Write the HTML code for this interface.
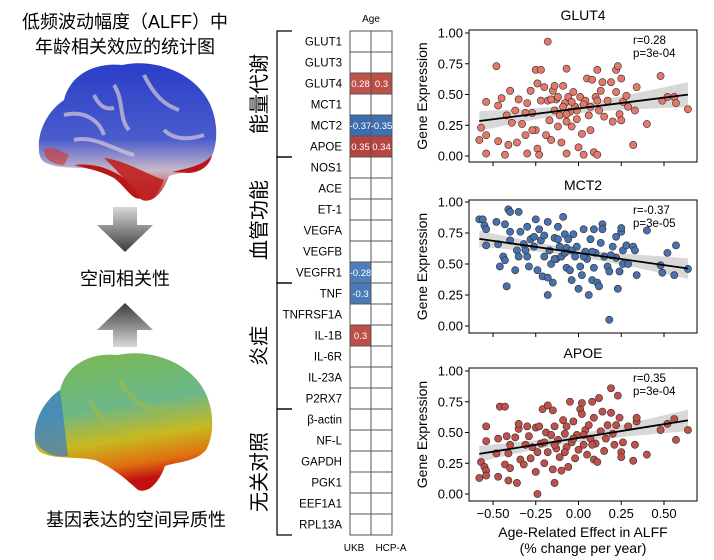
<!DOCTYPE html>
<html><head><meta charset="utf-8">
<style>
html,body{margin:0;padding:0;background:#fff;}
svg{display:block;font-family:"Liberation Sans","Noto Sans CJK SC",sans-serif;}
</style></head>
<body>
<svg id="fig" width="714" height="560" viewBox="0 0 714 560" xmlns="http://www.w3.org/2000/svg">
<defs>
<linearGradient id="arrowDown" x1="0" y1="0" x2="0" y2="1"><stop offset="0" stop-color="#d8d8d8"/><stop offset="1" stop-color="#3a3a3a"/></linearGradient>
<linearGradient id="arrowUp" x1="0" y1="1" x2="0" y2="0"><stop offset="0" stop-color="#d8d8d8"/><stop offset="1" stop-color="#3a3a3a"/></linearGradient>
<linearGradient id="b1" x1="0" y1="0" x2="0" y2="1"><stop offset="0" stop-color="#2a3ec8"/><stop offset="0.55" stop-color="#4a5ccc"/><stop offset="0.78" stop-color="#c8b8c8"/><stop offset="1" stop-color="#c01818"/></linearGradient>
<linearGradient id="b2" x1="0" y1="0" x2="0.2" y2="1"><stop offset="0" stop-color="#7cb84a"/><stop offset="0.45" stop-color="#6ab88a"/><stop offset="0.7" stop-color="#c8b820"/><stop offset="0.88" stop-color="#e07010"/><stop offset="1" stop-color="#c01010"/></linearGradient>
<path id="brainShape" d="M35,440 C33,420 45,400 60,390 C66,365 90,352 118,355 C150,348 190,362 205,392 C215,412 214,436 206,450 C196,462 176,462 165,466 C160,480 150,494 138,490 C125,478 110,466 95,460 C75,456 55,460 40,452 C36,448 35,445 35,440 Z"/>
</defs>

<text x="125" y="28" text-anchor="middle" font-size="18">低频波动幅度（ALFF）中</text>
<text x="125" y="53" text-anchor="middle" font-size="18">年龄相关效应的统计图</text>
<g transform="translate(4,-290)">
<use href="#brainShape" fill="url(#b1)"/>
<path d="M60,405 C80,400 95,410 100,425 M110,375 C120,390 115,410 125,420 M140,365 C150,385 160,395 175,400 M70,430 C90,425 110,440 130,445 M160,420 C170,430 185,430 200,425 M90,385 C95,395 100,400 110,398" stroke="#d8c8d8" stroke-width="4" fill="none" opacity="0.7"/>
<path d="M70,455 C95,452 120,462 140,488 C128,492 125,480 110,468 C95,460 80,458 70,455 Z" fill="#b81818"/>
<path d="M100,448 C120,450 145,465 160,470 C155,482 148,492 138,490 C128,478 115,462 100,448 Z" fill="#c02020" opacity="0.9"/>
<path d="M168,462 C185,458 200,455 208,445 C206,455 198,462 185,463 Z" fill="#b81818"/>
<path d="M40,440 C45,435 55,440 65,445 L60,455 C50,455 40,450 40,440 Z" fill="#c84040" opacity="0.7"/>
</g>
<path d="M113,207 H137 V225 H153 L125,252 L97,225 H113 Z" fill="url(#arrowDown)"/>
<text x="125" y="285" text-anchor="middle" font-size="18">空间相关性</text>
<path d="M125,303 L153,330 H137 V347 H113 V330 H97 Z" fill="url(#arrowUp)"/>
<g>
<use href="#brainShape" fill="url(#b2)"/>
<path d="M35,440 C33,420 45,400 60,390 L68,456 C55,458 40,452 35,440 Z" fill="#3a7ac8" opacity="0.7"/>
<path d="M90,400 C100,420 110,430 130,440 M120,380 C130,400 145,410 165,412" stroke="#a8b840" stroke-width="4" fill="none" opacity="0.6"/>
</g>
<text x="136" y="526" text-anchor="middle" font-size="18">基因表达的空间异质性</text>

<g id="heat"></g>
<g id="plots"></g>
</svg>

<script>
const NS = "http://www.w3.org/2000/svg";
const genes = ["GLUT1","GLUT3","GLUT4","MCT1","MCT2","APOE","NOS1","ACE","ET-1","VEGFA","VEGFB","VEGFR1","TNF","TNFRSF1A","IL-1B","IL-6R","IL-23A","P2RX7","β-actin","NF-L","GAPDH","PGK1","EEF1A1","RPL13A"];
const cohorts = ["UKB","HCP-A"];
const ukbValues = [null,null,0.28,null,-0.37,0.35,null,null,null,null,null,-0.28,-0.3,null,0.3,null,null,null,null,null,null,null,null,null];
const hcpValues = [null,null,0.3,null,-0.35,0.34,null,null,null,null,null,null,null,null,null,null,null,null,null,null,null,null,null,null];
const groupNames = ["能量代谢","血管功能","炎症","无关对照"];
const groupSizes = [6,6,6,6];

const glut4X = [-0.58,-0.57,-0.54,-0.54,-0.54,-0.48,-0.47,-0.47,-0.45,-0.43,-0.42,-0.40,-0.41,-0.39,-0.37,-0.36,-0.35,-0.33,-0.31,-0.30,-0.30,-0.28,-0.27,-0.25,-0.25,-0.24,-0.23,-0.22,-0.22,-0.24,-0.20,-0.19,-0.18,-0.18,-0.17,-0.16,-0.15,-0.14,-0.13,-0.12,-0.11,-0.10,-0.09,-0.08,-0.07,-0.07,-0.07,-0.06,-0.05,-0.04,-0.03,-0.02,-0.01,0.00,0.01,0.02,0.03,0.04,0.05,0.06,0.07,0.08,0.09,0.10,0.11,0.11,0.12,0.13,0.14,0.15,0.17,0.19,0.20,0.22,0.22,0.23,0.24,0.25,0.25,0.26,0.28,0.29,0.32,0.33,0.34,0.40,0.48,0.49,0.52,0.56,0.57,0.64,-0.12,-0.09,-0.07,-0.04,-0.01,0.03,0.07,0.11,-0.31,-0.27,-0.16,-0.14];
const glut4Y = [0.13,0.23,0.44,0.02,0.17,0.73,0.41,0.12,0.47,0.01,0.33,0.53,0.09,0.27,0.37,0.11,0.46,0.26,0.17,0.43,0.02,0.53,0.35,0.70,0.21,0.06,0.01,0.70,0.45,0.59,0.56,0.17,0.45,0.93,0.29,0.13,0.53,0.37,0.46,0.24,0.33,0.11,0.57,0.43,0.28,0.71,0.02,0.48,0.36,0.24,0.52,0.40,0.30,0.07,0.48,0.18,0.01,0.45,0.63,0.33,0.21,0.62,0.03,0.48,0.01,0.70,0.37,0.53,0.60,0.32,0.45,0.60,0.28,0.70,0.52,0.73,0.34,0.29,0.63,0.44,0.49,0.40,0.09,0.37,0.56,0.26,0.65,0.45,0.48,0.48,0.43,0.38,0.48,0.40,0.34,0.44,0.37,0.42,0.40,0.45,0.35,0.21,0.46,0.57];
const mct2X = [-0.58,-0.56,-0.55,-0.54,-0.54,-0.48,-0.47,-0.46,-0.44,-0.43,-0.43,-0.42,-0.41,-0.40,-0.40,-0.40,-0.37,-0.36,-0.35,-0.35,-0.34,-0.32,-0.30,-0.30,-0.29,-0.28,-0.26,-0.25,-0.24,-0.23,-0.22,-0.21,-0.20,-0.18,-0.18,-0.18,-0.17,-0.16,-0.15,-0.14,-0.13,-0.12,-0.11,-0.10,-0.09,-0.08,-0.07,-0.07,-0.06,-0.05,-0.04,-0.03,-0.02,-0.01,0.00,0.01,0.02,0.03,0.04,0.05,0.06,0.07,0.08,0.09,0.09,0.10,0.11,0.12,0.13,0.14,0.14,0.15,0.17,0.18,0.18,0.20,0.22,0.22,0.23,0.24,0.25,0.25,0.26,0.26,0.28,0.29,0.32,0.33,0.34,0.40,0.48,0.49,0.52,0.56,0.57,0.64,-0.20,-0.14,-0.08,-0.04,0.03,0.08,-0.26,-0.31,-0.12,0.19];
const mct2Y = [0.86,0.86,0.81,0.78,0.65,0.84,0.66,0.48,0.56,0.53,0.82,0.32,0.94,0.92,0.69,0.76,0.45,0.61,0.92,0.56,0.76,0.66,0.80,0.56,0.48,0.70,0.64,0.86,0.45,0.78,0.69,0.40,0.73,0.84,0.25,0.39,0.61,0.50,0.35,0.71,0.54,0.80,0.64,0.56,0.88,0.74,0.63,0.47,0.70,0.45,0.37,0.74,0.56,0.64,0.30,0.48,0.41,0.78,0.60,0.54,0.25,0.70,0.37,0.78,0.47,0.59,0.35,0.32,0.67,0.82,0.78,0.56,0.48,0.44,0.05,0.64,0.72,0.55,0.30,0.44,0.76,0.79,0.50,0.61,0.65,0.50,0.64,0.61,0.41,0.77,0.49,0.43,0.59,0.41,0.65,0.46,0.56,0.54,0.59,0.61,0.56,0.60,0.72,0.61,0.70,0.57];
const apoeX = [-0.58,-0.57,-0.55,-0.54,-0.54,-0.54,-0.54,-0.48,-0.47,-0.47,-0.46,-0.43,-0.43,-0.42,-0.41,-0.41,-0.40,-0.40,-0.37,-0.36,-0.35,-0.35,-0.34,-0.32,-0.31,-0.30,-0.29,-0.28,-0.27,-0.25,-0.25,-0.24,-0.23,-0.22,-0.21,-0.20,-0.19,-0.18,-0.18,-0.16,-0.15,-0.15,-0.14,-0.14,-0.13,-0.12,-0.11,-0.10,-0.09,-0.08,-0.07,-0.07,-0.06,-0.05,-0.04,-0.03,-0.02,-0.01,0.00,0.01,0.02,0.02,0.03,0.04,0.05,0.06,0.07,0.08,0.09,0.09,0.10,0.11,0.12,0.13,0.14,0.15,0.16,0.17,0.19,0.19,0.20,0.21,0.22,0.23,0.24,0.25,0.25,0.26,0.29,0.32,0.33,0.34,0.34,0.40,0.48,0.52,0.56,0.57,0.64,-0.14,-0.08,-0.03,0.03,0.08,-0.20,-0.24];
const apoeY = [0.13,0.26,0.22,0.43,0.55,0.19,0.15,0.33,0.14,0.45,0.71,0.71,0.24,0.47,0.11,0.33,0.40,0.21,0.46,0.09,0.53,0.57,0.28,0.24,0.40,0.55,0.47,0.29,0.38,0.54,0.18,0.00,0.55,0.41,0.69,0.25,0.50,0.72,0.34,0.48,0.68,0.20,0.55,0.09,0.37,0.44,0.30,0.19,0.60,0.49,0.38,0.55,0.22,0.75,0.42,0.59,0.29,0.48,0.36,0.69,0.74,0.65,0.40,0.52,0.32,0.56,0.45,0.75,0.28,0.62,0.41,0.26,0.78,0.51,0.67,0.35,0.45,0.56,0.86,0.66,0.49,0.40,0.56,0.80,0.62,0.34,0.30,0.42,0.55,0.27,0.40,0.59,0.62,0.32,0.52,0.57,0.61,0.44,0.52,0.40,0.34,0.45,0.48,0.40,0.42,0.34];
const yTickValues = [0,0.25,0.5,0.75,1.0];
const yTickLabels = ["0.00","0.25","0.50","0.75","1.00"];
const xTickValues = [-0.5,-0.25,0,0.25,0.5];
const xTickLabels = ["\u22120.50","\u22120.25","0.00","0.25","0.50"];
const plotTitles = ["GLUT4","MCT2","APOE"];
const plotStats = [["r=0.28","p=3e-04"],["r=-0.37","p=3e-05"],["r=0.35","p=3e-04"]];

function mk(tag, attrs, parent){const e=document.createElementNS(NS,tag);for(const k in attrs)e.setAttribute(k,attrs[k]);parent.appendChild(e);return e;}

const heat = document.getElementById('heat');
const hx0 = 350, cw = 21, hy0 = 31, rh = 21;
function cellColor(v){
  if(v===null) return '#ffffff';
  const a=Math.min(1,Math.abs(v)/0.37);
  if(v>0){
    const r=Math.round(235-(235-178)*a), g=Math.round(150-(150-62)*a), b=Math.round(130-(130-60)*a);
    return `rgb(${r},${g},${b})`;
  } else {
    const r=Math.round(140-(140-58)*a), g=Math.round(180-(180-108)*a), b=Math.round(220-(220-176)*a);
    return `rgb(${r},${g},${b})`;
  }
}
const t0 = mk('text',{x:hx0+cw,y:22,'text-anchor':'middle','font-size':10},heat);
t0.textContent='Age';


const seriesVals=[ukbValues,hcpValues];
genes.forEach((g,i)=>{
  const y=hy0+i*rh;
  const lab=mk('text',{x:342,y:y+rh/2+4,'text-anchor':'end','font-size':11.5},heat);
  lab.textContent=g;
  
  
  seriesVals.forEach((arr,j)=>{
    const x=hx0+j*cw;
    const r=mk('rect',{x:x,y:y,width:cw,height:rh,fill:cellColor(arr[i]),stroke:'#555','stroke-width':1},heat);
    
    
    if(arr[i]!==null){
      const tv=mk('text',{x:x+cw/2,y:y+rh/2+3.5,'text-anchor':'middle','font-size':9.5,fill:'#fff'},heat);
      tv.textContent=String(arr[i]);
      
      
    }
  });
});
const cohortX=[354,391];
cohorts.forEach((c,j)=>{
  const t=mk('text',{x:cohortX[j],y:551,'text-anchor':'middle','font-size':10},heat);
  t.textContent=c;
  
  
});
let start=0;
groupNames.forEach((gname,k)=>{
  const y1=hy0+start*rh, y2=hy0+(start+groupSizes[k])*rh;
  const br=mk('path',{d:`M292,${y1} H277 V${y2} H292`,fill:'none',stroke:'#000','stroke-width':1.2},heat);
  
  
  const cy=(y1+y2)/2;
  const gt=mk('text',{x:0,y:0,'text-anchor':'middle','font-size':20,transform:`translate(266,${cy}) rotate(-90)`},heat);
  gt.textContent=gname;
  
  
  start+=groupSizes[k];
});

const plots=document.getElementById('plots');
const axL=469, axR=697;
function xScale(v){return 578.5+v*171;}
const panels=[
  {xs:glut4X,ys:glut4Y,top:30,bot:162,y1:33,y0:156,fill:'#e2796a'},
  {xs:mct2X,ys:mct2Y,top:200,bot:333,y1:202,y0:326,fill:'#4473b0'},
  {xs:apoeX,ys:apoeY,top:368,bot:501,y1:371,y0:494,fill:'#bd514c'}
];
panels.forEach((p,pi)=>{
  const g=mk('g',{},plots);
  
  
  const yS=v=>p.y0+(p.y1-p.y0)*v;
  const n=p.xs.length; let mx=0,my=0; for(let i=0;i<n;i++){mx+=p.xs[i];my+=p.ys[i];} mx/=n;my/=n;
  let sxy=0,sxx=0,sse=0; for(let i=0;i<n;i++){sxy+=(p.xs[i]-mx)*(p.ys[i]-my);sxx+=(p.xs[i]-mx)**2;}
  const b=sxy/sxx,a=my-b*mx;
  for(let i=0;i<n;i++){sse+=(p.ys[i]-a-b*p.xs[i])**2;}
  const s=Math.sqrt(sse/(n-2));
  const xa=-0.58,xb=0.64;
  let up=[],dn=[];
  for(let k=0;k<=20;k++){const xv=xa+(xb-xa)*k/20;const se=1.97*s*Math.sqrt(1/n+(xv-mx)**2/sxx);const yv=a+b*xv;up.push(`${xScale(xv)},${yS(yv+se)}`);dn.unshift(`${xScale(xv)},${yS(yv-se)}`);}
  const band=mk('polygon',{points:up.concat(dn).join(' '),fill:'#c8c8c8',opacity:0.7},g);
  
  
  for(let i=0;i<n;i++){
    const c=mk('circle',{cx:xScale(p.xs[i]),cy:yS(p.ys[i]),r:3.6,fill:p.fill,stroke:'#3a2a2a','stroke-width':0.6},g);
    
    
  }
  const ln=mk('line',{x1:xScale(xa),y1:yS(a+b*xa),x2:xScale(xb),y2:yS(a+b*xb),stroke:'#000','stroke-width':1.8},g);
  
  
  const frame=mk('rect',{x:axL,y:p.top,width:axR-axL,height:p.bot-p.top,fill:'none',stroke:'#000','stroke-width':1},g);
  
  
  yTickValues.forEach((v,k)=>{
    const yy=yS(v);
    mk('line',{x1:axL-4,x2:axL,y1:yy,y2:yy,stroke:'#000'},g);
    const tl=mk('text',{x:axL-6,y:yy+4.5,'text-anchor':'end','font-size':13},g);
    tl.textContent=yTickLabels[k];
    
    
  });
  xTickValues.forEach((v,k)=>{
    const xx=xScale(v);
    mk('line',{x1:xx,x2:xx,y1:p.bot,y2:p.bot+4,stroke:'#000'},g);
    if(pi===2){
      const tl=mk('text',{x:xx,y:p.bot+17,'text-anchor':'middle','font-size':13},g);
      tl.textContent=xTickLabels[k];
      
      
    }
  });
  const tt=mk('text',{x:583,y:p.top-10,'text-anchor':'middle','font-size':14},g);
  tt.textContent=plotTitles[pi];
  
  
  plotStats[pi].forEach((st,k)=>{
    const s1=mk('text',{x:633,y:p.top+14+k*13,'font-size':11.5},g);
    s1.textContent=st;
    
    
  });
  const yt=mk('text',{x:0,y:0,'text-anchor':'middle','font-size':14,transform:`translate(427,${(p.top+p.bot)/2}) rotate(-90)`},g);
  yt.textContent='Gene Expression';
  
  
});
const xt1=mk('text',{x:583,y:537,'text-anchor':'middle','font-size':14},plots);
xt1.textContent='Age-Related Effect in ALFF';


const xt2=mk('text',{x:583,y:553,'text-anchor':'middle','font-size':14},plots);
xt2.textContent='(% change per year)';


</script>
</body></html>
